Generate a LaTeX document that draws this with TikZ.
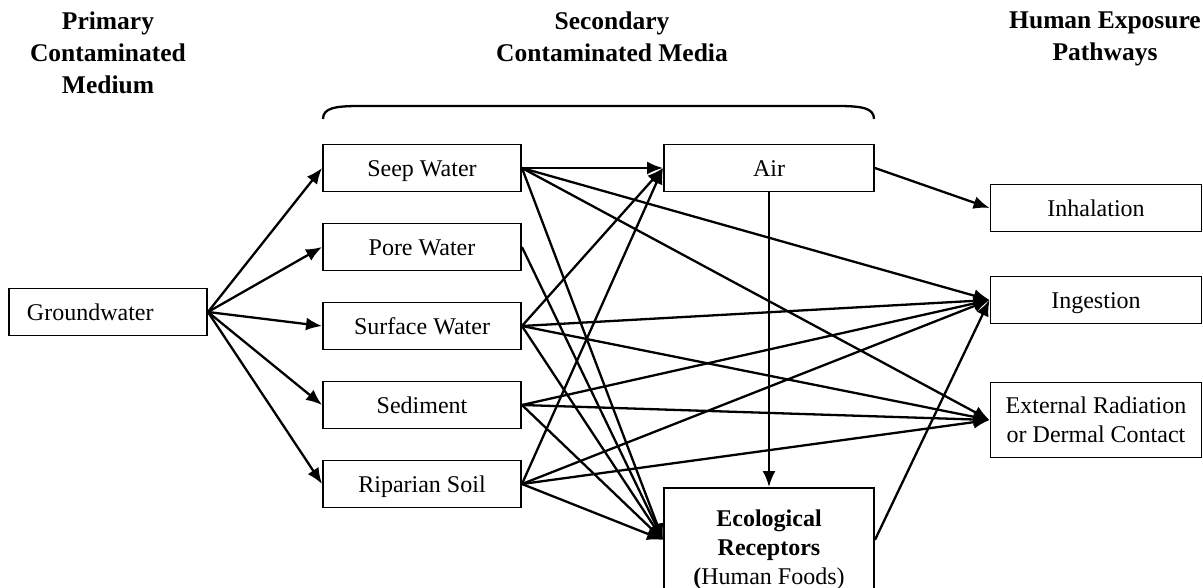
\documentclass[tikz,border=0pt]{standalone}
\usepackage{fontspec}
\setmainfont{Liberation Serif}
\usetikzlibrary{arrows.meta,positioning,calc}

\begin{document}
\begin{tikzpicture}[x=1pt, y=-1pt, >={Latex[length=16pt,width=13pt]}, line width=2.3pt]
    % Styles
    \tikzstyle{frame} = [rectangle, draw, line width=1.9pt, minimum width=198pt, minimum height=47pt, inner sep=0pt, font=\fontsize{24}{29}\selectfont]
    \tikzstyle{media} = [frame, text height=19pt, text depth=2pt]
    \tikzstyle{pathway} = [media, minimum width=211pt]
    \tikzstyle{heading} = [align=center, anchor=north, inner sep=0pt, font=\fontsize{25.5}{32}\selectfont\bfseries]
    \tikzstyle{line} = [draw, ->]

    \useasboundingbox (0,0) rectangle (1203,588);

    % Headings
    \node [heading] (hprim) at (108,11) {Primary\\Contaminated\\Medium};
    \node [heading] (hsec) at (612,11) {Secondary\\Contaminated Media};
    \node [heading] (hhum) at (1105,11) {Human Exposure\\Pathways};

    % Brace over secondary media
    \draw (323,119) .. controls (323,108) and (335,106) .. (360,106) -- (837,106) .. controls (862,106) and (874,108) .. (874,119);

    % Nodes
    \node [media, align=left, text width=162pt, inner xsep=18pt] (gw) at (108,312) {Groundwater};
    \node [media] (seep) at (422,168) {Seep Water};
    \node [media, below of=seep, node distance=79pt] (pore) {Pore Water};
    \node [media, below of=pore, node distance=79pt] (surf) {Surface Water};
    \node [media, below of=surf, node distance=79pt] (sed) {Sediment};
    \node [media, below of=sed, node distance=79pt] (soil) {Riparian Soil};
    \node [media, minimum width=210pt] (air) at (769,168) {Air};
    \node [frame, minimum width=210pt, minimum height=104pt, anchor=north,
           label={[anchor=north, align=center, inner sep=0pt, yshift=-22pt, font=\fontsize{24}{29}\selectfont]north:\textbf{Ecological}\\\textbf{Receptors}\\\textbf{(}Human Foods)}] (eco) at (769,487) {};
    \node [pathway] (inh) at (1096,208) {Inhalation};
    \node [pathway] (ing) at (1096,300) {Ingestion};
    \node [frame, minimum width=211pt, minimum height=75pt, align=center] (ext) at (1096,420) {External Radiation\\or Dermal Contact};

    % Edges
    \foreach \m in {seep,pore,surf,sed,soil}
        \path [line] (gw.east) -- (\m.west);

    \path [line] (seep.east) -- (air.west);
    \path [line] (seep.east) -- (ing.west);
    \path [line] (seep.east) -- (ext.west);
    \path [line] (seep.east) -- (eco.west);

    \path [line] (pore.east) -- (eco.west);

    \path [line] (surf.east) -- (air.west);
    \path [line] (surf.east) -- (ing.west);
    \path [line] (surf.east) -- (ext.west);
    \path [line] (surf.east) -- (eco.west);

    \path [line] (sed.east) -- (ing.west);
    \path [line] (sed.east) -- (ext.west);
    \path [line] (sed.east) -- (eco.west);

    \path [line] (soil.east) -- (air.west);
    \path [line] (soil.east) -- (ing.west);
    \path [line] (soil.east) -- (ext.west);
    \path [line] (soil.east) -- (eco.west);

    \path [line] (air.east) -- (inh.west);
    \path [line] (air.south) -- (eco.north);
    \path [line] (eco.east) -- (ing.west);

\end{tikzpicture}
\end{document}
